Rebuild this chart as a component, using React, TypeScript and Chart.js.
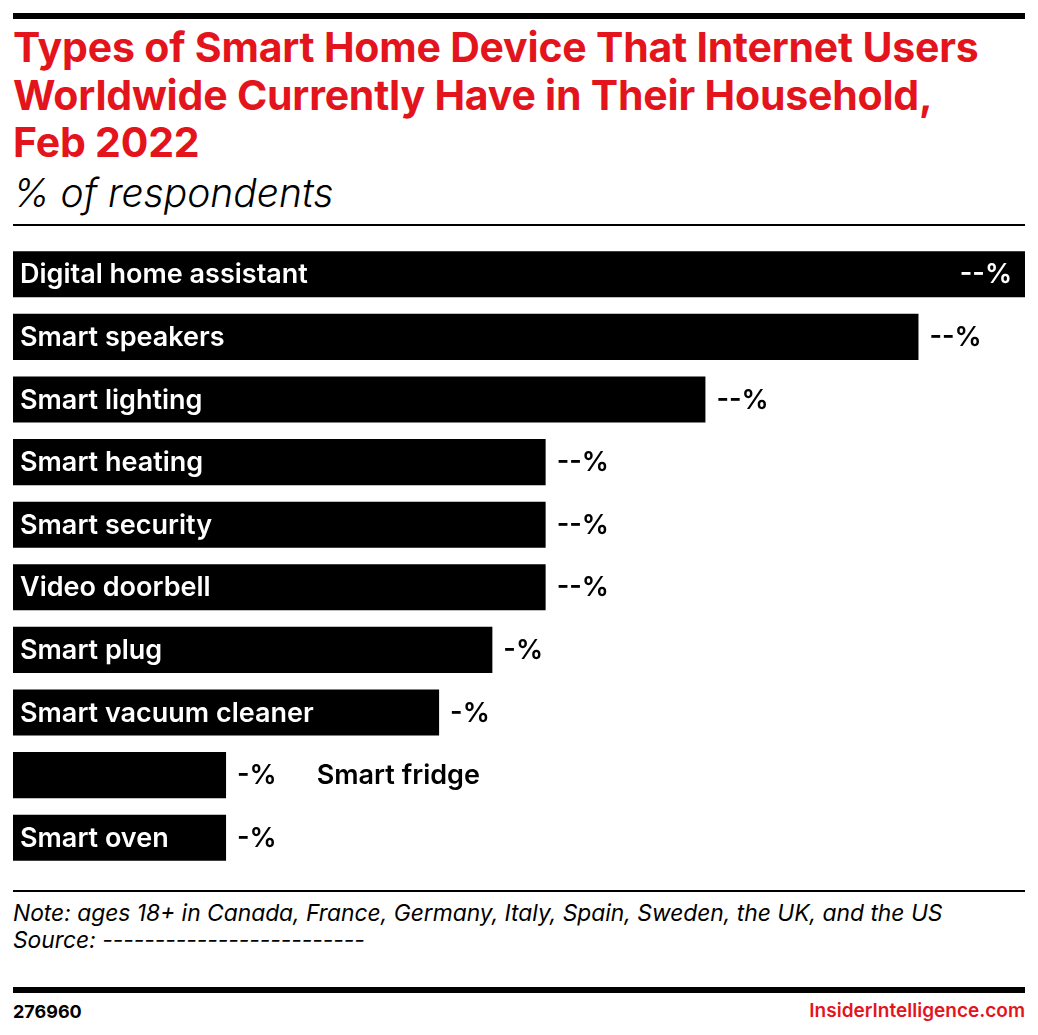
import React, { useEffect, useRef } from 'react';
import { Chart, registerables } from 'chart.js';

Chart.register(...registerables);

const categories = [
  'Digital home assistant',
  'Smart speakers',
  'Smart lighting',
  'Smart heating',
  'Smart security',
  'Video doorbell',
  'Smart plug',
  'Smart vacuum cleaner',
  'Smart fridge',
  'Smart oven',
];
// values are redacted in the source ("--%")
const shares = [19, 17, 13, 10, 10, 10, 9, 8, 4, 4];
const outsideLabels = ['Smart fridge'];
const axisMax = 19;

const RED = '#e4141d';
const FONT = "Inter, 'Noto Sans', sans-serif";

const maskValue = (v: number) => '-'.repeat(String(v).length) + '%';

const barLabelPlugin = {
  id: 'barLabels',
  afterDatasetsDraw: (chart: Chart) => {
    const ctx = chart.ctx;
    const meta = chart.getDatasetMeta(0);
    ctx.save();
    ctx.textBaseline = 'middle';
    meta.data.forEach((bar: any, i: number) => {
      const label = categories[i];
      const value = shares[i];
      const valueText = maskValue(value);
      const left = bar.base;
      const right = bar.x;
      const y = bar.y + 1;

      ctx.font = `600 27px ${FONT}`;
      const valueW = ctx.measureText(valueText).width;
      const insideValue = right + 10 + valueW > chart.width;

      // value label
      if (insideValue) {
        ctx.fillStyle = '#fff';
        ctx.textAlign = 'right';
        ctx.fillText(valueText, right - 13, y);
      } else {
        ctx.fillStyle = '#000';
        ctx.textAlign = 'left';
        ctx.fillText(valueText, right + 11, y);
      }

      // category label
      ctx.textAlign = 'left';
      if (outsideLabels.includes(label)) {
        ctx.fillStyle = '#000';
        ctx.fillText(label, right + 11 + valueW + 40, y);
      } else {
        ctx.fillStyle = '#fff';
        ctx.fillText(label, left + 7, y);
      }
    });
    ctx.restore();
  },
};

const BarChart: React.FC = () => {
  const canvasRef = useRef<HTMLCanvasElement>(null);
  const chartRef = useRef<Chart | null>(null);

  useEffect(() => {
    if (!canvasRef.current) return;
    if (chartRef.current) chartRef.current.destroy();

    chartRef.current = new Chart(canvasRef.current, {
      type: 'bar',
      data: {
        labels: categories,
        datasets: [
          {
            data: shares,
            backgroundColor: '#000',
            borderWidth: 0,
            barPercentage: 0.736,
            categoryPercentage: 1,
          },
        ],
      },
      options: {
        indexAxis: 'y',
        responsive: false,
        animation: false,
        layout: { padding: 0 },
        plugins: {
          legend: { display: false },
          tooltip: { enabled: false },
        },
        scales: {
          x: { display: false, min: 0, max: axisMax, grid: { display: false } },
          y: { display: false, grid: { display: false } },
        },
      },
      plugins: [barLabelPlugin],
    });

    return () => {
      if (chartRef.current) {
        chartRef.current.destroy();
        chartRef.current = null;
      }
    };
  }, []);

  return <canvas ref={canvasRef} width={1012} height={626} style={{ width: 1012, height: 626 }} />;
};

const rule = (top: number, h: number): React.CSSProperties => ({
  position: 'absolute',
  left: 13,
  top,
  width: 1012,
  height: h,
  background: '#000',
});

export default function App() {
  return (
    <div
      style={{
        position: 'absolute',
        left: 0,
        top: 0,
        width: 1038,
        height: 1035,
        background: '#fff',
        fontFamily: FONT,
        overflow: 'hidden',
      }}
    >
      <div style={rule(13, 6)} />
      <div
        style={{
          position: 'absolute',
          left: 13,
          top: 24,
          color: RED,
          fontWeight: 700,
          fontSize: 41,
          lineHeight: '47.5px',
          letterSpacing: -0.2,
          whiteSpace: 'nowrap',
        }}
      >
        Types of Smart Home Device That Internet Users
        <br />
        Worldwide Currently Have in Their Household,
        <br />
        Feb 2022
      </div>
      <div
        style={{
          position: 'absolute',
          left: 13,
          top: 170,
          fontSize: 39,
          lineHeight: '46px',
          fontStyle: 'italic',
          fontWeight: 300,
          color: '#000',
          whiteSpace: 'nowrap',
        }}
      >
        % of respondents
      </div>
      <div style={rule(224, 2)} />

      <div style={{ position: 'absolute', left: 13, top: 243 }}>
        <BarChart />
      </div>

      <div style={rule(890, 2)} />
      <div
        style={{
          position: 'absolute',
          left: 13,
          top: 899,
          fontSize: 22.8,
          lineHeight: '27px',
          fontStyle: 'italic',
          fontWeight: 400,
          color: '#000',
          whiteSpace: 'nowrap',
        }}
      >
        Note: ages 18+ in Canada, France, Germany, Italy, Spain, Sweden, the UK, and the US
        <br />
        Source: -------------------------
      </div>

      <div style={rule(987, 6)} />
      <div
        style={{
          position: 'absolute',
          left: 13,
          top: 1000,
          fontSize: 18,
          lineHeight: '24px',
          fontWeight: 700,
          color: '#000',
        }}
      >
        276960
      </div>
      <div
        style={{
          position: 'absolute',
          right: 13,
          top: 999,
          fontSize: 19,
          lineHeight: '24px',
          fontWeight: 600,
          color: RED,
        }}
      >
        InsiderIntelligence.com
      </div>
    </div>
  );
}
